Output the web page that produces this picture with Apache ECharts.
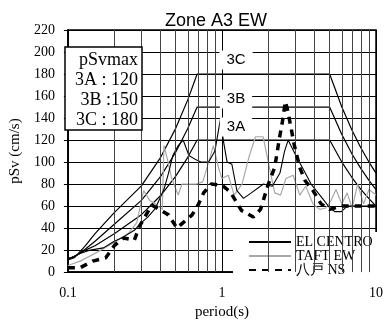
<!DOCTYPE html>
<html><head><meta charset="utf-8">
<script src="https://cdn.jsdelivr.net/npm/echarts@6/dist/echarts.min.js"></script>
<style>html,body{margin:0;padding:0;background:#fff}#c{width:386px;height:325px}</style>
</head><body><div id="c"></div>
<script>
// ---- data ----
const yTicks = [0,20,40,60,80,100,120,140,160,180,200,220];
const gridPeriods = [0.2,0.3,0.4,0.5,0.6,0.7,0.8,0.9,2,3,4,5,6,7,8,9];

const designPeriods = [0.1,0.11,0.13,0.15,0.2,0.3,0.4,0.5,0.6,0.69,5,6,7,8,9,10];
const sv3A = [12,14,20,24,34.8,52.2,69.6,87,104.3,120,120,100,85.7,75,66.7,60];
const sv3B = [12,14,21,28,43.5,65.2,87,108.7,130.4,150,150,125,107.1,93.8,83.3,75];
const sv3C = [11,13,24,35,54,78.3,104.3,130.4,156.5,180,180,150,128.6,112.5,100,90];

const elPeriods = [0.1,0.12,0.14,0.17,0.2,0.23,0.27,0.3,0.33,0.37,0.42,0.45,0.48,0.52,0.56,0.61,0.68,0.73,0.82,0.9,0.98,1.02,1.08,1.16,1.25,1.38,1.55,1.86,2.12,2.38,2.55,2.69,2.8,3.02,3.24,3.79,4.49,5.03,5.4,5.96,6.5,7.6,10];
const elSv = [12,17,20,22,28,32,38,45,50,58,75,90,106,115,120,106,102,100,100,110,140,120,100,98,74,67,72,80,78,90,110,120,115,106,98,80,67,58,55,55,60,60,60];

const tfPeriods = [0.1,0.12,0.15,0.2,0.25,0.28,0.31,0.34,0.37,0.41,0.42,0.44,0.47,0.52,0.55,0.6,0.68,0.75,0.8,0.88,0.95,1.0,1.1,1.2,1.35,1.5,1.65,1.85,2.0,2.2,2.4,2.6,2.9,3.2,3.5,3.9,4.3,4.7,5.1,5.5,6.0,6.5,7.0,7.6,8.3,9.0,10];
const tfSv = [6,10,17,27,36,45,74,65,62,57,115,104,86,70,80,80,80,82,95,115,95,85,88,70,80,105,123,123,100,72,70,85,88,70,78,62,57,58,65,75,62,72,58,80,62,75,70];

const hcPeriods = [0.1,0.12,0.145,0.176,0.2,0.23,0.27,0.29,0.35,0.45,0.51,0.56,0.64,0.7,0.76,0.85,1.0,1.13,1.34,1.6,1.78,2.0,2.2,2.35,2.47,2.58,2.66,2.81,2.93,3.2,3.47,3.9,4.4,5.0,6.0,7.2,8.5,10];
const hcSv = [4,4,10,13,24,31,29,41,61,52,40,45,52,61,72,80,79,73,56,50,57,80,95,120,137,155,148,131,117,95,83,74,62,57,60,60,60,60];

const seriesNames = ['EL CENTRO','TAFT EW','八戸 NS'];
const boxLines = ['pSvmax','3A : 120','3B :150','3C : 180'];
const zoneLabels = ['3C','3B','3A'];

// ---- build ----
const zip = (xs, ys) => xs.map((x, i) => [x, ys[i]]);
const SERIF = "'Liberation Serif', 'Times New Roman', serif";
const SANS = "'Liberation Sans', Arial, sans-serif";

const chart = echarts.init(document.getElementById('c'), null, {renderer:'canvas'});

const designStyle = {color:'#000', width:1.2};
const option = {
  animation:false,
  backgroundColor:'#fff',
  title:{text:'Zone A3 EW', left:165, top:12, padding:0,
    textStyle:{fontFamily:SANS, fontSize:18, fontWeight:'normal', color:'#000'}},
  grid:{left:57, right:5, top:30, bottom:43, show:true, borderColor:'#000', borderWidth:1.5, backgroundColor:'transparent'},
  legend:{
    data:seriesNames, orient:'vertical', left:233, top:232,
    itemWidth:42, itemHeight:14, itemGap:0,
    padding:[3,12,5,15], backgroundColor:'#fff',
    itemStyle:{color:'rgba(0,0,0,0)', borderColor:'rgba(0,0,0,0)', borderWidth:0},
    textStyle:{fontFamily:SERIF, fontSize:14, color:'#000'}
  },
  xAxis:{type:'log', logBase:10, min:0.1, max:10,
    name:'period(s)', nameLocation:'middle', nameGap:22,
    nameTextStyle:{fontFamily:SERIF, fontSize:15, color:'#000'},
    axisLine:{show:true, lineStyle:{color:'#000', width:1.5}},
    axisTick:{show:false},
    axisLabel:{fontFamily:SERIF, fontSize:14, color:'#000', margin:14},
    splitLine:{show:true, lineStyle:{color:'#000', width:1}}
  },
  yAxis:{type:'value', min:yTicks[0], max:yTicks[yTicks.length-1], interval:yTicks[1]-yTicks[0],
    name:'pSv (cm/s)', nameLocation:'middle', nameGap:38, nameRotate:90,
    nameTextStyle:{fontFamily:SERIF, fontSize:15, color:'#000'},
    axisLine:{show:true, lineStyle:{color:'#000', width:1.5}},
    axisTick:{show:true, inside:false, length:4, lineStyle:{color:'#000'}},
    axisLabel:{fontFamily:SERIF, fontSize:14, color:'#000', margin:13},
    splitLine:{show:true, lineStyle:{color:'#000', width:1}}
  },
  series:[
    {name:'3A', type:'line', data:zip(designPeriods, sv3A), symbol:'none', lineStyle:designStyle, z:2,
      markLine:{silent:true, symbol:'none', label:{show:false}, animation:false,
        lineStyle:{color:'#444', width:1, type:'solid'},
        data:gridPeriods.map(p => ({xAxis:p}))}},
    {name:'3B', type:'line', data:zip(designPeriods, sv3B), symbol:'none', lineStyle:designStyle, z:2},
    {name:'3C', type:'line', data:zip(designPeriods, sv3C), symbol:'none', lineStyle:designStyle, z:2},
    {name:seriesNames[1], type:'line', data:zip(tfPeriods, tfSv), symbol:'none', itemStyle:{color:'#a8a8a8'}, lineStyle:{color:'#a8a8a8', width:1.2}, z:3},
    {name:seriesNames[0], type:'line', data:zip(elPeriods, elSv), symbol:'none', itemStyle:{color:'#000'}, lineStyle:{color:'#000', width:1.1}, z:4},
    {name:seriesNames[2], type:'line', data:zip(hcPeriods, hcSv), symbol:'none', itemStyle:{color:'#000'}, lineStyle:{color:'#000', width:3.5, type:[7,6]}, z:5}
  ],
  graphic:[
    {type:'rect', z:100, shape:{x:65, y:47, width:77, height:83}, style:{fill:'#fff', stroke:'#000', lineWidth:1.5}},
    ...boxLines.map((t, i) => ({type:'text', z:101, style:{text:t, x:138, y:60 + i*20, align:'right', verticalAlign:'middle', font:'18px ' + SERIF, fill:'#000'}})),
    ...zoneLabels.map((t, i) => ({type:'text', z:101, style:{text:t, x:236, y:[60,99,127][i], align:'center', verticalAlign:'middle', font:'15px ' + SANS, fill:'#000', backgroundColor:'#fff', padding:[2,7]}}))
  ]
};
chart.setOption(option);
</script></body></html>
